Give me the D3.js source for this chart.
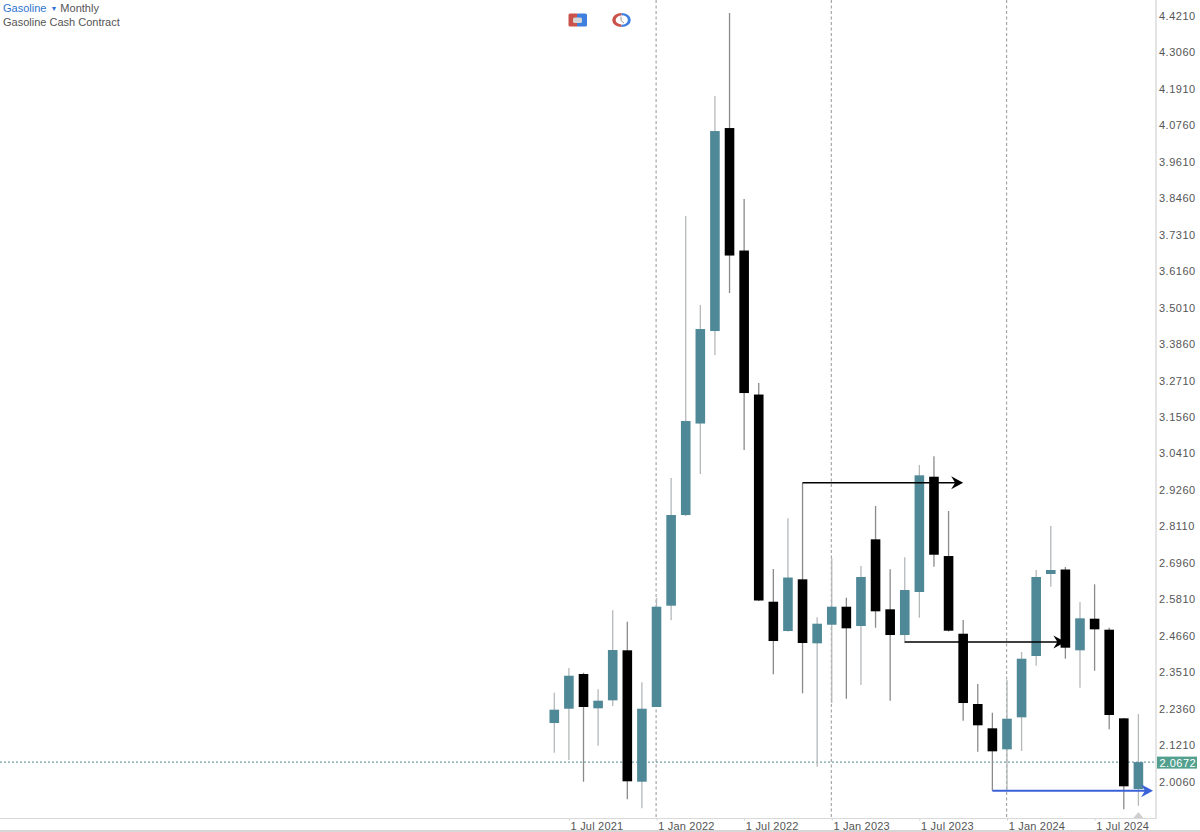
<!DOCTYPE html>
<html><head><meta charset="utf-8">
<style>
html,body{margin:0;padding:0;background:#fff;}
svg{display:block;font-family:"Liberation Sans",Arial,sans-serif;}
</style>
<script src="https://cdn.jsdelivr.net/npm/d3@7/dist/d3.min.js"></script>
</head><body><div id="chart"></div>
<script>
const months = ["Jun 2021","Jul 2021","Aug 2021","Sep 2021","Oct 2021","Nov 2021","Dec 2021","Jan 2022","Feb 2022","Mar 2022","Apr 2022","May 2022","Jun 2022","Jul 2022","Aug 2022","Sep 2022","Oct 2022","Nov 2022","Dec 2022","Jan 2023","Feb 2023","Mar 2023","Apr 2023","May 2023","Jun 2023","Jul 2023","Aug 2023","Sep 2023","Oct 2023","Nov 2023","Dec 2023","Jan 2024","Feb 2024","Mar 2024","Apr 2024","May 2024","Jun 2024","Jul 2024","Aug 2024","Sep 2024","Oct 2024"];
const opens  = [2.1905,2.2356,2.3451,2.2369,2.2621,2.4199,2.0053,2.2410,2.5606,2.8467,3.1353,3.4271,4.0675,3.6811,3.2268,2.5732,2.4807,2.6438,2.4419,2.5006,2.5574,2.4965,2.7700,2.5492,2.4681,2.6038,2.9675,2.7173,2.4722,2.2505,2.1738,2.1075,2.2085,2.4019,2.6606,2.6748,2.4199,2.5196,2.4849,2.2053,1.9823];
const highs  = [2.2861,2.3640,2.3492,2.2968,2.5460,2.5101,2.3189,2.5848,2.9634,3.7899,3.5091,4.1685,4.4303,3.8435,3.2631,2.6763,2.8363,2.9486,2.5239,2.7101,2.5858,2.6858,2.8751,2.6754,2.7132,3.0044,3.0318,2.8593,2.5154,2.3136,2.2230,2.3262,2.4145,2.6732,2.8120,2.6826,2.5722,2.6281,2.4911,2.2063,2.2189];
const lows   = [2.0968,2.0738,2.0053,2.1189,2.2442,1.9498,1.9214,2.2410,2.5145,2.8435,2.9760,3.3514,3.5470,3.0517,2.5754,2.3441,2.4791,2.2842,2.0527,2.2536,2.2672,2.3104,2.4911,2.2609,2.4419,2.5227,2.6836,2.4791,2.1978,2.1000,1.9770,1.9800,2.1022,2.3713,2.6205,2.3933,2.3019,2.3555,2.1706,1.9183,1.9296];
const closes = [2.2325,2.3397,2.2410,2.2609,2.4208,2.0066,2.2356,2.5574,2.8467,3.1432,3.4334,4.0580,3.6653,3.2315,2.5770,2.4492,2.6495,2.4429,2.5038,2.5574,2.4893,2.6511,2.5429,2.4681,2.6101,2.9719,2.7214,2.4817,2.2536,2.1833,2.1012,2.2041,2.3933,2.6511,2.6732,2.4281,2.5208,2.4861,2.2158,1.9908,2.0672];
const priceTicks = [4.4210,4.3060,4.1910,4.0760,3.9610,3.8460,3.7310,3.6160,3.5010,3.3860,3.2710,3.1560,3.0410,2.9260,2.8110,2.6960,2.5810,2.4660,2.3510,2.2360,2.1210,2.0060];
const timeTickMonths = ["Jul 2021","Jan 2022","Jul 2022","Jan 2023","Jul 2023","Jan 2024","Jul 2024"];
const timeTickLabels = ["1 Jul 2021","1 Jan 2022","1 Jul 2022","1 Jan 2023","1 Jul 2023","1 Jan 2024","1 Jul 2024"];
const yearLines = ["Jan 2022","Jan 2023","Jan 2024"];
const lastPrice = 2.0672;
const arrowStart = ["Nov 2022","Jun 2023","Dec 2023"];
const arrowEndIndex = [28,35,41];
const arrowPrice = [2.9486,2.4463,1.9770];
const arrowColor = ["#000000","#000000","#3a62d8"];

const W=1200,H=832, axisX=1156, axisY=818.5;
const TEAL="#4f8897";
const svg=d3.select("#chart").append("svg").attr("width",W).attr("height",H);
const x=d3.scaleLinear().domain([0,months.length-1]).range([554.3,1138.4]);
const y=d3.scaleLinear().domain([2.006,4.421]).range([781.5,16]);
const xm=m=>x(months.indexOf(m));

// year separators
svg.append("g").selectAll("line").data(yearLines).join("line")
 .attr("x1",d=>xm(d)-0.4).attr("x2",d=>xm(d)-0.4).attr("y1",0).attr("y2",axisY)
 .attr("stroke","#a6a6a6").attr("stroke-width",1.2).attr("stroke-dasharray","3 2.5");

// last price
svg.append("line").attr("x1",0).attr("x2",axisX).attr("y1",y(lastPrice)).attr("y2",y(lastPrice))
 .attr("stroke",TEAL).attr("stroke-width",1).attr("stroke-dasharray","2 2");

// wicks & bodies
const idx=d3.range(months.length);
const isUp=i=>closes[i]>=opens[i];
svg.append("g").selectAll("line").data(idx).join("line")
 .attr("x1",x).attr("x2",x).attr("y1",i=>y(highs[i])).attr("y2",i=>y(lows[i]))
 .attr("stroke",i=>isUp(i)?"#b4b8ba":"#8a8a8a").attr("stroke-width",1.3);
const bw=9.6;
svg.append("g").selectAll("rect").data(idx).join("rect")
 .attr("x",i=>x(i)-bw/2).attr("width",bw)
 .attr("y",i=>y(Math.max(opens[i],closes[i])))
 .attr("height",i=>Math.abs(y(opens[i])-y(closes[i])))
 .attr("fill",i=>isUp(i)?TEAL:"#000");

// arrows
arrowStart.forEach((m,k)=>{
  const x0=xm(m),x1=x(arrowEndIndex[k]),yy=y(arrowPrice[k]),c=arrowColor[k];
  svg.append("line").attr("x1",x0).attr("x2",x1-5).attr("y1",yy).attr("y2",yy)
    .attr("stroke",c).attr("stroke-width",k==2?1.9:1.5);
  svg.append("path")
    .attr("d",d3.line()([[x1,yy],[x1-12,yy-6.5],[x1-8,yy],[x1-12,yy+6.5]])+"Z")
    .attr("fill",c);
});

// axes frame
const yAxis=d3.axisRight(y).tickValues(priceTicks).tickSize(0).tickPadding(3).tickFormat(d3.format(".4f"));
const gy=svg.append("g").attr("transform",`translate(${axisX},0)`).call(yAxis);
gy.select(".domain").remove();
gy.selectAll("text").attr("fill","#555").style("font-size","11px").style("letter-spacing","0.5px")
  .style("font-family",'"Liberation Sans",Arial,sans-serif');
svg.append("line").attr("x1",axisX).attr("x2",axisX).attr("y1",0).attr("y2",axisY+0.5).attr("stroke","#d9d9d9").attr("stroke-width",1.4);

const labelByMonth=new Map(timeTickMonths.map((m,i)=>[m,timeTickLabels[i]]));
const xAxis=d3.axisBottom(x).tickValues(timeTickMonths.map(m=>months.indexOf(m))).tickSize(2).tickPadding(2)
  .tickFormat(i=>labelByMonth.get(months[i]));
const gx=svg.append("g").attr("transform",`translate(0,${axisY})`).call(xAxis);
gx.select(".domain").remove();
gx.selectAll("line").attr("stroke","#cfcfcf");
gx.selectAll("text").attr("text-anchor","start").attr("dx",1.2).attr("fill","#555").style("font-size","11px").style("letter-spacing","0.2px")
  .style("font-family",'"Liberation Sans",Arial,sans-serif');
svg.append("line").attr("x1",0).attr("x2",axisX).attr("y1",axisY).attr("y2",axisY).attr("stroke","#d9d9d9").attr("stroke-width",1);
svg.append("line").attr("x1",0).attr("x2",W).attr("y1",831).attr("y2",831).attr("stroke","#c9c9c9").attr("stroke-width",1.5);

// current bar marker
svg.append("path").attr("d",d3.line()([[x(40),812],[x(40)+5,818],[x(40)-5,818]])+"Z").attr("fill","#cfcfcf");

// price tag
const tagY=y(lastPrice);
svg.append("rect").attr("x",1157).attr("y",tagY-5.5).attr("width",40).attr("height",12).attr("fill","#54a08f");
svg.append("text").attr("x",1159.5).attr("y",tagY+4.5).attr("fill","#fff").style("font-size","11px").style("letter-spacing","0.5px").text(d3.format(".4f")(lastPrice));

// header
const h=svg.append("text").attr("x",3).attr("y",12).style("font-size","11px");
h.append("tspan").attr("fill","#2f74d0").text("Gasoline");
h.append("tspan").attr("fill","#2f74d0").attr("dx",4).style("font-size","7px").attr("dy",-1).text("▼");
h.append("tspan").attr("fill","#555").attr("dx",3).attr("dy",1).text("Monthly");
svg.append("text").attr("x",3).attr("y",25.5).attr("fill","#555").style("font-size","11px").text("Gasoline Cash Contract");

// header icons
const ic=svg.append("g");
ic.append("rect").attr("x",568.5).attr("y",13.5).attr("width",10).attr("height",13).attr("rx",1.5).attr("fill","#c9524a");
ic.append("rect").attr("x",577).attr("y",13.5).attr("width",10).attr("height",13).attr("rx",1.5).attr("fill","#3f7fe0");
ic.append("rect").attr("x",573).attr("y",17.5).attr("width",9).attr("height",5.5).attr("rx",1.5).attr("fill","#d6d6d6");
const ring=ic.append("g").attr("transform","translate(621.5,20) scale(1.33,1)");
ring.append("path").attr("d",d3.arc()({innerRadius:4.4,outerRadius:7,startAngle:Math.PI,endAngle:2*Math.PI})).attr("fill","#c9524a");
ring.append("path").attr("d",d3.arc()({innerRadius:4.8,outerRadius:7,startAngle:0,endAngle:Math.PI})).attr("fill","#3f7fe0");
ic.append("path").attr("d","M621 16.5V20.5L624 23").attr("fill","none").attr("stroke","#9a9a9a").attr("stroke-width",1);
</script></body></html>
